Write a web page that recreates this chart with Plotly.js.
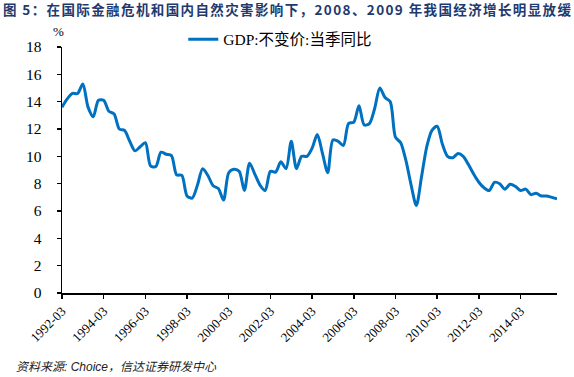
<!DOCTYPE html>
<html>
<head>
<meta charset="utf-8">
<script src="https://cdn.plot.ly/plotly-3.0.1.min.js"></script>
<style>
html,body{margin:0;padding:0;background:#fff;}
#chart{width:574px;height:377px;}
</style>
</head>
<body>
<div id="chart"></div>
<script>
// Quarterly GDP YoY growth (%), 1992Q1 .. 2015Q4
const quarters = [];
for (let y = 1992; y <= 2015; y++) { for (const m of ['03','06','09','12']) quarters.push(y + '-' + m); }

const gdpYoY = [
  13.6, 14.2, 14.6, 14.6,   // 1992
  15.3, 13.6, 12.9, 14.1,   // 1993
  14.1, 13.3, 13.1, 12.0,   // 1994
  11.9, 11.1, 10.4, 10.7,   // 1995
  11.0, 9.3, 9.25, 10.3,    // 1996
  10.15, 10.05, 8.65, 8.6,  // 1997
  7.1, 6.95, 7.9, 9.1,      // 1998
  8.6, 7.85, 7.65, 6.8,     // 1999
  8.8, 9.05, 8.9, 7.5,      // 2000
  9.5, 8.7, 7.9, 7.5,       // 2001
  8.9, 8.85, 9.6, 9.1,      // 2002
  11.1, 9.1, 10.0, 10.0,    // 2003
  10.6, 11.6, 10.2, 8.8,    // 2004
  11.2, 11.1, 10.8, 12.4,   // 2005
  12.5, 13.7, 12.3, 12.4,   // 2006
  13.5, 15.0, 14.3, 14.0,   // 2007
  11.4, 11.0, 9.7, 7.9,     // 2008
  6.4, 8.5, 10.7, 11.9,     // 2009
  12.2, 10.9, 10.0, 9.9,    // 2010
  10.2, 10.0, 9.4, 8.7,     // 2011
  8.1, 7.7, 7.5, 8.1,       // 2012
  8.0, 7.6, 7.95, 7.8,      // 2013
  7.5, 7.6, 7.2, 7.3,       // 2014
  7.1, 7.1, 7.0, 6.9        // 2015
];

const tickIdx = [0, 8, 16, 24, 32, 40, 48, 56, 64, 72, 80, 88];
const tickLabels = tickIdx.map(i => quarters[i]);
const yTicks = [0, 2, 4, 6, 8, 10, 12, 14, 16, 18];

const xIndex = quarters.map((_, i) => i);

const serif = '"Liberation Serif", "Times New Roman", "Noto Sans CJK SC", serif';
const titleText = '图 5：在国际金融危机和国内自然灾害影响下，2008、2009 年我国经济增长明显放缓';

const trace = {
  x: xIndex,
  y: gdpYoY,
  type: 'scatter',
  mode: 'lines',
  name: 'GDP:不变价:当季同比',
  line: {color: '#0070C0', width: 3, shape: 'spline', smoothing: 0.8},
  hoverinfo: 'skip'
};

const layout = {
  width: 574, height: 377,
  margin: {l: 62, r: 17, t: 47, b: 84},
  paper_bgcolor: '#ffffff',
  plot_bgcolor: '#ffffff',
  showlegend: true,
  legend: {
    orientation: 'h', x: 0.245, xanchor: 'left', y: 1.03, yanchor: 'middle',
    font: {family: serif, size: 15.5, color: '#000'},
    itemwidth: 30, bgcolor: 'rgba(0,0,0,0)'
  },
  xaxis: {
    range: [0, 95],
    tickmode: 'array', tickvals: tickIdx, ticktext: tickLabels,
    tickangle: -45,
    ticks: 'outside', ticklen: 4, tickwidth: 1.5, tickcolor: '#000',
    showline: true, linecolor: '#000', linewidth: 1.5,
    showgrid: false, zeroline: false,
    tickfont: {family: serif, size: 13, color: '#000'}
  },
  yaxis: {
    range: [0, 18],
    tickmode: 'array', tickvals: yTicks,
    ticks: 'outside', ticklen: 4, tickwidth: 1.5, tickcolor: '#000',
    ticklabelstandoff: 12,
    showline: true, linecolor: '#000', linewidth: 1.5,
    showgrid: false, zeroline: false,
    tickfont: {family: serif, size: 15.5, color: '#000'}
  },
  annotations: [
    {text: '<b>' + titleText + '</b>',
     xref: 'paper', yref: 'paper', x: (287-62)/495, y: 1 + (47-9)/246, xanchor: 'center', yanchor: 'middle',
     showarrow: false, font: {family: '"Noto Sans CJK SC", sans-serif', size: 13.5, color: '#1F3A6E'}},
    {text: '%', xref: 'paper', yref: 'paper', x: -4/495, y: 1 + (47-32)/246, xanchor: 'center', yanchor: 'middle',
     showarrow: false, font: {family: serif, size: 13, color: '#000'}},
    {text: '<i>资料来源: Choice，信达证券研发中心</i>', xref: 'paper', yref: 'paper',
     x: -48/495, y: -(367-293)/246, xanchor: 'left', yanchor: 'middle',
     showarrow: false, font: {family: '"Liberation Sans", "Noto Sans CJK SC", sans-serif', size: 12, color: '#222'}}
  ]
};

Plotly.newPlot('chart', [trace], layout, {staticPlot: true, displayModeBar: false}).then(function () {
  // spread the title across the full width like the reference
  document.querySelectorAll('.annotation-text').forEach(function (t) {
    if (t.textContent.indexOf('图 5') === 0) {
      t.setAttribute('textLength', '568');
      t.setAttribute('lengthAdjust', 'spacing');
      const r = t.getBoundingClientRect();
      const dx = 3 - r.left;
      const x0 = parseFloat(t.getAttribute('x') || '0');
      t.setAttribute('x', x0 + dx);
    }
  });
});
</script>
</body>
</html>
